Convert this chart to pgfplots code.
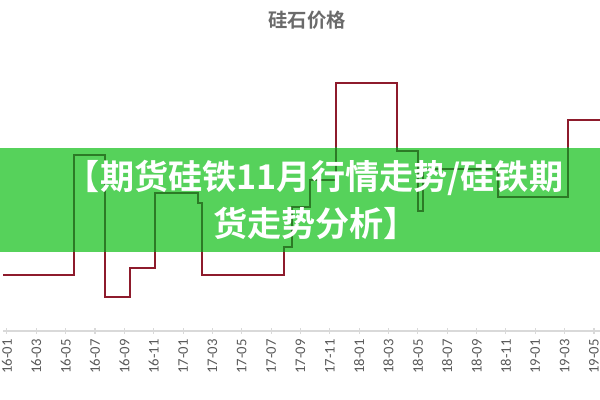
\documentclass[border=0pt]{standalone}
\usepackage{pgfplots}
\pgfplotsset{compat=1.18}
\usepackage{fontspec}
\setmainfont{Carlito}
\newfontfamily\cjkbold{Noto Sans CJK SC Bold}
\definecolor{linered}{HTML}{8E1B2C}
\definecolor{linegreen}{HTML}{2C7A26}
\definecolor{banner}{HTML}{56D25B}
\definecolor{axgray}{HTML}{D9D9D9}
\definecolor{txtgray}{HTML}{595959}
\definecolor{titlegray}{HTML}{6A6A6A}
\pgfplotstableread{
x y
-0.27 56
4.57 176
6.68 34
8.38 63
10.09 138
13.02 128
13.29 56
18.88 84
19.42 124
20.65 151
22.42 248
26.58 180
28.01 120
28.35 162
33.46 134
38.23 211
40.41 211
}\pricedata
\pgfplotsset{
  base/.style={
    scale only axis, width=447.75pt, height=248.25pt,
    at={(2.25pt,51.75pt)}, anchor=south west,
    xmin=-0.27, xmax=40.41, ymin=0, ymax=331,
  },
}
\begin{document}
\begin{tikzpicture}
\useasboundingbox (0,0) rectangle (450pt,300pt);
\begin{axis}[base,
  axis x line*=bottom, hide y axis,
  axis line style={axgray, line width=0.8pt},
  xtick={0,2,...,40},
  xticklabels={16-01,16-03,16-05,16-07,16-09,16-11,17-01,17-03,17-05,17-07,17-09,17-11,18-01,18-03,18-05,18-07,18-09,18-11,19-01,19-03,19-05},
  tick align=center, major tick length=4pt,
  tick style={axgray, line width=0.8pt},
  xticklabel style={rotate=90, anchor=east, font=\fontsize{11pt}{12pt}\selectfont, text=txtgray, inner sep=0pt, xshift=-4pt},
]
\addplot[const plot, linered, line width=1.5pt] table[x=x,y=y] {\pricedata};
\end{axis}
\fill[banner] (0,111pt) rectangle (450pt,189pt);
\begin{scope}
\clip (0,111pt) rectangle (450pt,189pt);
\begin{axis}[base, hide axis]
\addplot[const plot, linegreen, line width=1.5pt] table[x=x,y=y] {\pricedata};
\end{axis}
\end{scope}
\node[text=white, font=\cjkbold\fontsize{25.6pt}{30pt}\selectfont] at (235.9pt,166.5pt) {【期货硅铁11月行情走势/硅铁期};
\node[text=white, font=\cjkbold\fontsize{25.6pt}{30pt}\selectfont] at (236.6pt,132.75pt) {货走势分析】};
\node[text=titlegray, font=\cjkbold\fontsize{14.5pt}{16pt}\selectfont] at (230.25pt,285pt) {硅石价格};
\end{tikzpicture}
\end{document}
